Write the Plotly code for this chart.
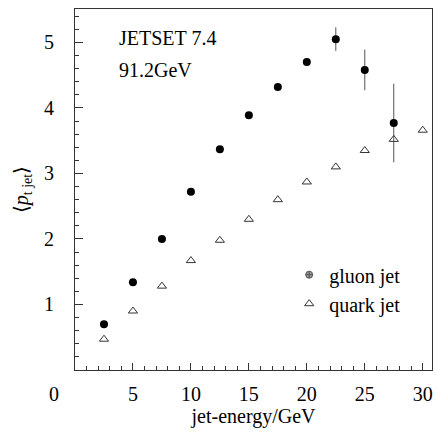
import plotly.graph_objects as go

# Data
gluon_x = [2.5, 5, 7.5, 10, 12.5, 15, 17.5, 20, 22.5, 25, 27.5]
gluon_y = [0.70, 1.34, 2.00, 2.72, 3.37, 3.89, 4.32, 4.70, 5.05, 4.58, 3.77]
gluon_err = [0, 0, 0, 0, 0, 0, 0, 0, 0.18, 0.31, 0.60]

quark_x = [2.5, 5, 7.5, 10, 12.5, 15, 17.5, 20, 22.5, 25, 27.5, 30]
quark_y = [0.47, 0.90, 1.28, 1.67, 1.98, 2.30, 2.60, 2.87, 3.10, 3.35, 3.52, 3.66]

x_ticks = [5, 10, 15, 20, 25, 30]
y_ticks = [1, 2, 3, 4, 5]

FONT = "'Liberation Serif', 'Times New Roman', serif"

fig = go.Figure()

fig.add_trace(go.Scatter(
    x=gluon_x, y=gluon_y, mode="markers", name="gluon jet",
    marker=dict(symbol="circle", size=8, color="black"),
    error_y=dict(type="data", array=gluon_err, visible=True, width=0,
                 thickness=1, color="#555555"),
    showlegend=False, legendgroup="g",
))
# legend entry for gluon jet (hatched grey symbol)
fig.add_trace(go.Scatter(
    x=[None], y=[None], mode="markers", name="gluon jet",
    marker=dict(symbol="circle-cross", size=7, color="#999999",
                line=dict(color="#555555", width=1)),
    legendgroup="g",
))
fig.add_trace(go.Scatter(
    x=quark_x, y=quark_y, mode="markers", name="quark jet",
    marker=dict(symbol="triangle-up-open", size=8, color="#333333",
                line=dict(width=1)),
    legendgroup="q",
))

axis_common = dict(
    showline=True, linecolor="#333333", linewidth=1, mirror=True,
    ticks="inside", tickcolor="#333333", showgrid=False, zeroline=False,
    tickfont=dict(family=FONT, size=20, color="black"),
    automargin=False,
)

fig.update_xaxes(
    range=[0, 30.8], tickvals=x_ticks, ticklen=7, tickwidth=1,
    minor=dict(dtick=1, tick0=0, ticks="inside", ticklen=4, tickcolor="#333333"),
    ticklabelstandoff=6,
    title=dict(text="jet-energy/GeV", font=dict(family=FONT, size=20, color="black"),
               standoff=0),
    **axis_common,
)
fig.update_yaxes(
    range=[0, 5.51], tickvals=y_ticks, ticklen=8, tickwidth=1,
    minor=dict(dtick=0.2, tick0=0, ticks="inside", ticklen=4, tickcolor="#333333"),
    ticklabelstandoff=16,
    title=dict(text="\u27e8<i>p</i><sub>t jet</sub>\u27e9",
               font=dict(family=FONT, size=20, color="black"), standoff=10),
    **axis_common,
)

fig.add_annotation(x=3.65, y=5.07, xref="x", yref="y", text="JETSET 7.4",
                   showarrow=False, xanchor="left", yanchor="middle",
                   font=dict(family=FONT, size=20, color="black"))
fig.add_annotation(x=3.65, y=4.58, xref="x", yref="y", text="91.2GeV",
                   showarrow=False, xanchor="left", yanchor="middle",
                   font=dict(family=FONT, size=20, color="black"))
fig.add_annotation(x=-0.06, y=0, xref="paper", yref="paper", text="0",
                   showarrow=False, xanchor="center", yanchor="top", yshift=-11,
                   font=dict(family=FONT, size=20, color="black"))

fig.update_layout(
    width=438, height=434,
    margin=dict(l=75, r=6, t=9, b=64),
    paper_bgcolor="white", plot_bgcolor="white",
    font=dict(family=FONT, size=20, color="black"),
    legend=dict(x=0.60, y=0.318, xanchor="left", yanchor="top",
                bgcolor="rgba(0,0,0,0)", tracegroupgap=0,
                font=dict(family=FONT, size=20, color="black")),
)

fig.write_html("out.html", config={"displayModeBar": False},
               post_script="document.body.style.margin='0';document.body.style.overflow='hidden';")
